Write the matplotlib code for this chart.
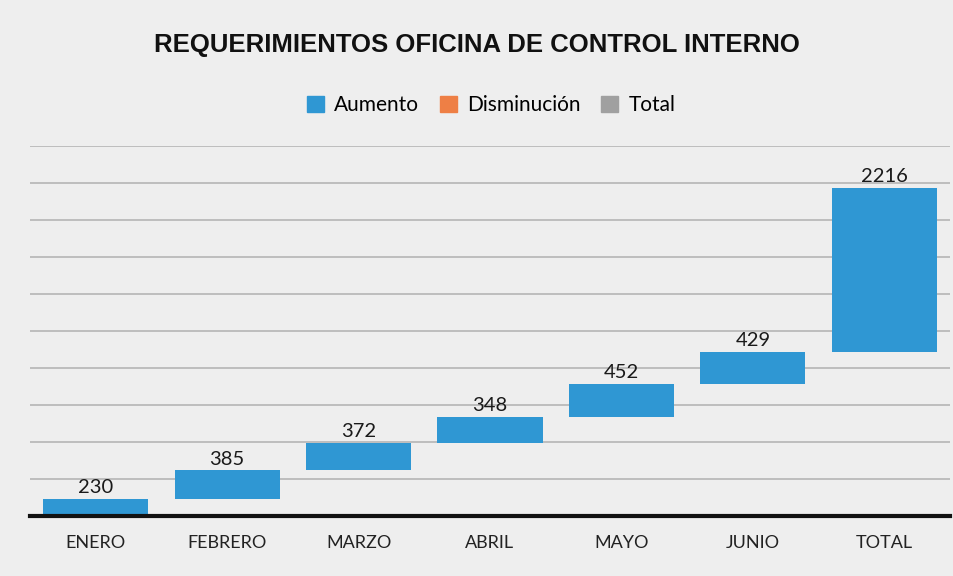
import numpy as np
import matplotlib
matplotlib.use('Agg')
import matplotlib.pyplot as plt
from matplotlib.patches import Patch

# data
meses = ['ENERO', 'FEBRERO', 'MARZO', 'ABRIL', 'MAYO', 'JUNIO', 'TOTAL']
valores = [230, 385, 372, 348, 452, 429, 2216]

azul = '#2F97D3'
naranja = '#EE7F45'
gris = '#A0A0A0'

plt.rcParams['font.family'] = ['Lato', 'DejaVu Sans']

fig = plt.figure(figsize=(9.54, 5.76), dpi=100, facecolor='#eeeeee')
ax = fig.add_axes([30/954, 60/576, 920/954, (516-146)/576])
ax.set_facecolor('#eeeeee')

x = np.arange(len(meses))
# waterfall: each bar starts where the previous one ended
bases = np.concatenate([[0], np.cumsum(valores)[:-1]])
ax.bar(x, valores, bottom=bases, width=0.8, color=azul, zorder=3)
for xi, b, v in zip(x, bases, valores):
    ax.text(xi, b + v + 40, str(v), ha='center', va='bottom', fontsize=14.5, color='#1a1a1a', zorder=4)

ax.set_xlim(-0.5, 6.5)
ax.set_ylim(0, 5000)
ax.set_yticks(np.arange(500, 5001, 500))
ax.yaxis.grid(True, color='#b5b5b5', linewidth=1.2, zorder=0)
ax.tick_params(axis='y', left=False, labelleft=False)
ax.set_xticks(x)
ax.set_xticklabels(meses, fontsize=13, color='#222222')
ax.tick_params(axis='x', length=0, pad=14)
for s in ['top', 'right', 'left']:
    ax.spines[s].set_visible(False)
ax.spines['bottom'].set_linewidth(3)
ax.spines['bottom'].set_color('#111111')
ax.spines['bottom'].set_zorder(5)

fig.text(0.5, 1 - 45/576, 'REQUERIMIENTOS OFICINA DE CONTROL INTERNO', ha='center', va='center',
         fontsize=18.5, fontweight='bold', family=['Liberation Sans Narrow', 'Liberation Sans', 'DejaVu Sans'],
         color='#111111')

handles = [Patch(color=azul), Patch(color=naranja), Patch(color=gris)]
fig.legend(handles, ['Aumento', 'Disminución', 'Total'], loc='center', bbox_to_anchor=(0.515, 1 - 105/576),
           ncol=3, frameon=False, fontsize=15, handlelength=0.8, handleheight=0.8, handletextpad=0.5,
           columnspacing=1.0)

plt.savefig('out.png', dpi=100, facecolor=fig.get_facecolor())
